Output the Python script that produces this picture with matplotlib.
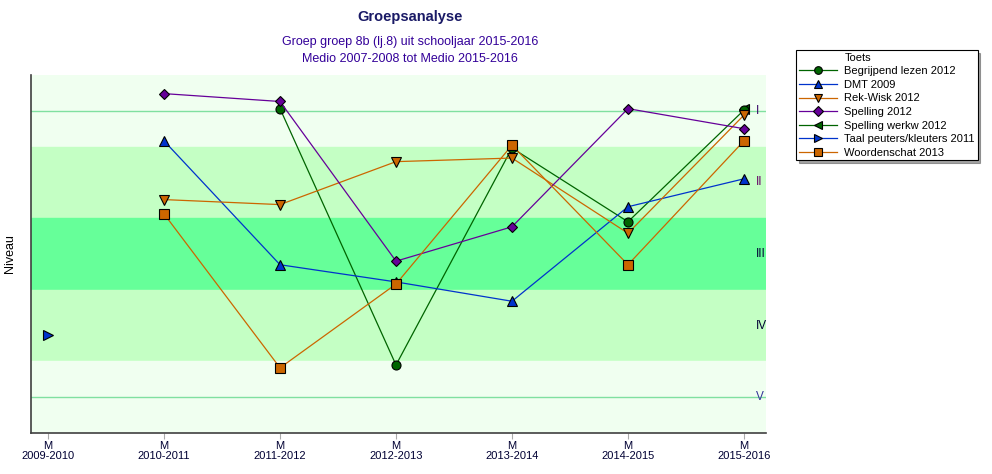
import numpy as np
import matplotlib
matplotlib.use('Agg')
import matplotlib.pyplot as plt
from matplotlib.lines import Line2D

plt.rcParams['font.family'] = ['Liberation Sans', 'DejaVu Sans']

# school years on the x axis (all measured "M" = medio)
years = ['2009-2010', '2010-2011', '2011-2012', '2012-2013',
         '2013-2014', '2014-2015', '2015-2016']
levels = ['I', 'II', 'III', 'IV', 'V']

# niveau per toets (1 = I ... 5 = V), None = no score
begrijpend = [None, None, 0.97, 4.55, 1.52, 2.55, 0.99]
dmt = [None, 1.42, 3.15, 3.39, 3.66, 2.34, 1.95]
rekwisk = [None, 2.24, 2.31, 1.71, 1.66, 2.71, 1.06]
spelling = [None, 0.76, 0.87, 3.10, 2.62, 0.97, 1.25]
spelling_werkw = [None, None, None, None, None, None, 0.97]
taal = [4.13, None, None, None, None, None, None]
woordenschat = [None, 2.44, 4.59, 3.42, 1.48, 3.15, 1.42]

series = [
    ('Begrijpend lezen 2012', begrijpend, '#006400', 'o', 4),
    ('DMT 2009', dmt, '#0033cc', '^', 4),
    ('Rek-Wisk 2012', rekwisk, '#cc6600', 'v', 4),
    ('Spelling 2012', spelling, '#660099', 'D', 4),
    ('Spelling werkw 2012', spelling_werkw, '#006400', '<', 2),
    ('Taal peuters/kleuters 2011', taal, '#0033cc', '>', 4),
    ('Woordenschat 2013', woordenschat, '#cc6600', 's', 4),
]

fig = plt.figure(figsize=(9.92, 4.74), dpi=100)
ax = fig.add_axes([31/992, 41/474, 735/992, 358/474])

# background bands
ax.axhspan(0.5, 1.5, color='#f0fff0', zorder=0)
ax.axhspan(1.5, 2.5, color='#c4ffc4', zorder=0)
ax.axhspan(2.5, 3.5, color='#66ff99', zorder=0)
ax.axhspan(3.5, 4.5, color='#c4ffc4', zorder=0)
ax.axhspan(4.5, 5.5, color='#f0fff0', zorder=0)
ax.axhline(1, color='#80e0a0', lw=1, zorder=1)
ax.axhline(5, color='#80e0a0', lw=1, zorder=1)

x = np.arange(len(years))
for name, vals, col, mk, z in series:
    xs = [xi for xi, v in zip(x, vals) if v is not None]
    ys = [v for v in vals if v is not None]
    ms = 5.5 if mk == 'D' else 6.5
    ax.plot(xs, ys, color=col, lw=0.9, marker=mk, markersize=ms,
            markerfacecolor=col, markeredgecolor='black', markeredgewidth=0.8,
            label=name, zorder=z)

lvl_colors = ['#330066', '#660066', '#000033', '#000033', '#333399']
for i, lv in enumerate(levels):
    ax.text(6.1, i + 1, lv, fontsize=8.5, color=lvl_colors[i], ha='left', va='center')

ax.set_xlim(-0.147, 6.19)
ax.set_ylim(5.5, 0.5)
ax.set_xticks(x)
ax.set_xticklabels(['M\n' + y for y in years], fontsize=8, color='#000033',
                   linespacing=1.0)
ax.set_yticks([])
ax.tick_params(axis='x', length=4, color='#aaaaaa', pad=2)
for s in ['top', 'right']:
    ax.spines[s].set_visible(False)
for s in ['left', 'bottom']:
    ax.spines[s].set_color('#404040')
    ax.spines[s].set_linewidth(1.2)
ax.set_ylabel('Niveau', fontsize=9)
ax.yaxis.set_label_coords(-0.021, 0.5)

fig.text(410/992, 1 - 17/474, 'Groepsanalyse', fontsize=10.5, fontweight='bold',
         color='#1a1a66', ha='center', va='center')
fig.text(410/992, 1 - 42/474, 'Groep groep 8b (lj.8) uit schooljaar 2015-2016',
         fontsize=9, color='#330099', ha='center', va='center')
fig.text(410/992, 1 - 59/474, 'Medio 2007-2008 tot Medio 2015-2016',
         fontsize=9, color='#330099', ha='center', va='center')

handles, labels = ax.get_legend_handles_labels()
title_handle = Line2D([], [], linestyle='none', marker='none')
leg = fig.legend([title_handle] + handles, ['Toets'] + labels, loc='upper left',
                 bbox_to_anchor=(796/992, 1 - 50/474), fontsize=8,
                 frameon=True, fancybox=False, shadow=True, markerscale=0.85,
                 borderpad=0.25, labelspacing=0.32, handlelength=3.4,
                 handletextpad=0.7, borderaxespad=0)
leg.get_frame().set_edgecolor('black')
leg.get_frame().set_linewidth(0.8)

fig.savefig('out.png', dpi=100)
